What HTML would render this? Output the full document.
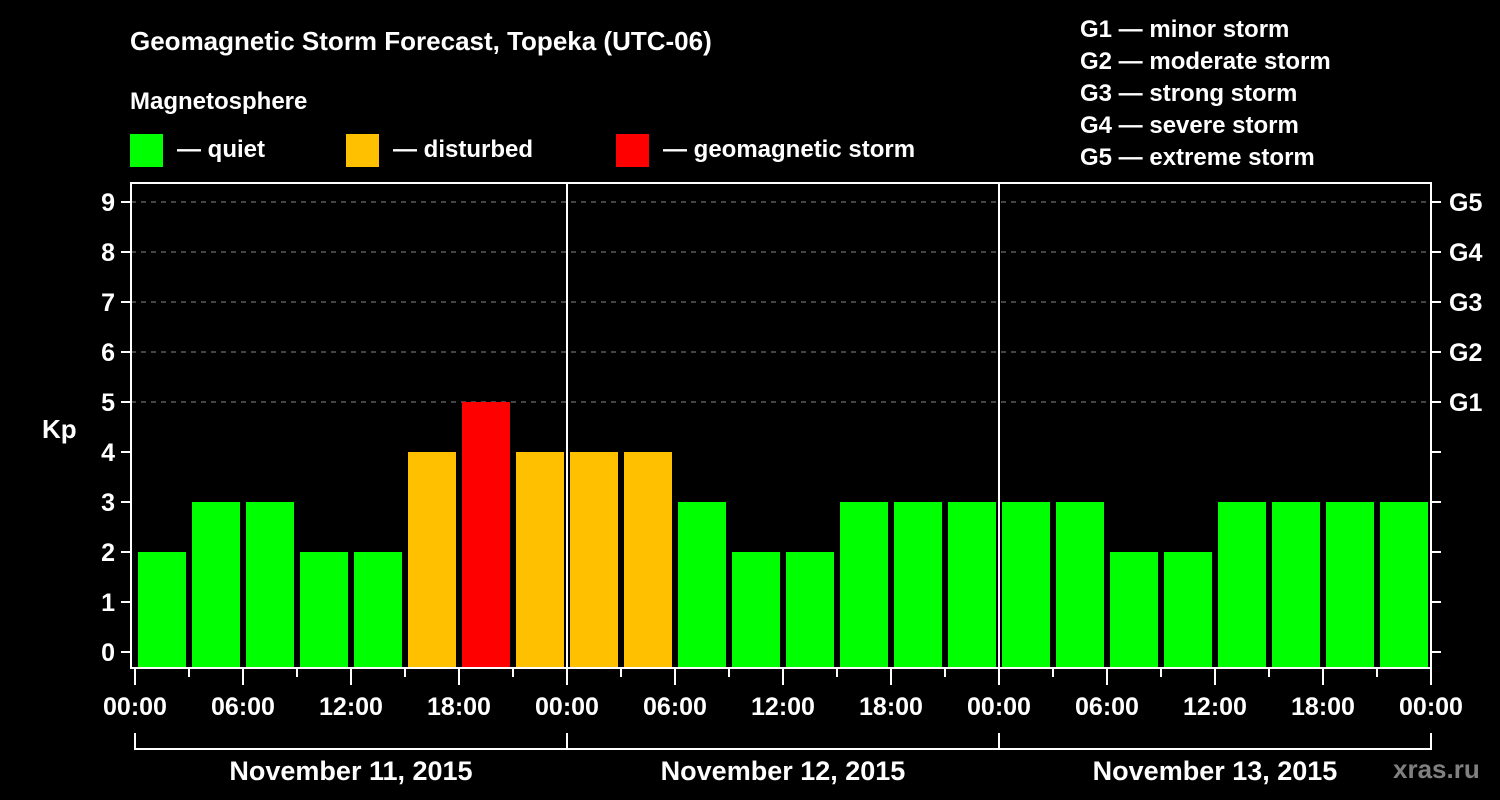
<!DOCTYPE html>
<html><head><meta charset="utf-8"><style>
html,body{margin:0;padding:0;background:#000;}
svg{display:block;font-family:"Liberation Sans",Arial,sans-serif;font-weight:bold;}
</style></head><body>
<svg id="chart" width="1500" height="800" viewBox="0 0 1500 800">
<rect x="0" y="0" width="1500" height="800" fill="#000"/>
<text x="130" y="50" fill="#fff" font-size="26">Geomagnetic Storm Forecast, Topeka (UTC-06)</text>
<text x="130" y="109" fill="#fff" font-size="24">Magnetosphere</text>
<rect x="130" y="134" width="33" height="33" fill="#00ff00"/>
<text x="177" y="157" fill="#fff" font-size="24">— quiet</text>
<rect x="346" y="134" width="33" height="33" fill="#ffc000"/>
<text x="393" y="157" fill="#fff" font-size="24">— disturbed</text>
<rect x="616" y="134" width="33" height="33" fill="#ff0000"/>
<text x="663" y="157" fill="#fff" font-size="24">— geomagnetic storm</text>
<g fill="#fff" font-size="24">
<text x="1080" y="37">G1 — minor storm</text>
<text x="1080" y="69">G2 — moderate storm</text>
<text x="1080" y="101">G3 — strong storm</text>
<text x="1080" y="133">G4 — severe storm</text>
<text x="1080" y="165">G5 — extreme storm</text>
</g>
<text x="42" y="438" fill="#fff" font-size="26">Kp</text>
<g id="grid"></g>
<g id="bars"></g>
<g id="axes"></g>
<text x="1393" y="778" fill="#808080" font-size="26">xras.ru</text>
</svg>
<script>
const kpValues = [2,3,3,2,2,4,5,4, 4,4,3,2,2,3,3,3, 3,3,2,2,3,3,3,3];
const yTicks = [0,1,2,3,4,5,6,7,8,9];
const gLabels = ["G1","G2","G3","G4","G5"];
const xTickLabels = ["00:00","06:00","12:00","18:00","00:00","06:00","12:00","18:00","00:00","06:00","12:00","18:00","00:00"];
const dayLabels = ["November 11, 2015","November 12, 2015","November 13, 2015"];

const NS = "http://www.w3.org/2000/svg";
const X0 = 135, SLOT = 54, LEFT = 131, RIGHT = 1431, TOP = 183, BOTTOM = 668;
const yScale = v => 652 - 50 * v;
const xScale = i => X0 + SLOT * i;
function mk(tag, attrs, parent) {
  const e = document.createElementNS(NS, tag);
  for (const k in attrs) e.setAttribute(k, attrs[k]);
  parent.appendChild(e);
  return e;
}
const grid = document.getElementById("grid");
const bars = document.getElementById("bars");
const axes = document.getElementById("axes");

yTicks.forEach(v => {
  const y = yScale(v);
  if (v >= 5) {
    const l = mk("line", {x1: LEFT, x2: RIGHT, y1: y, y2: y, stroke: "#888", "stroke-width": 1, "stroke-dasharray": "5,5"}, grid);
    
    
  }
  const t = mk("line", {x1: LEFT - 10, x2: LEFT, y1: y, y2: y, stroke: "#fff", "stroke-width": 2}, axes);
  
  
  const t2 = mk("line", {x1: RIGHT, x2: RIGHT + 10, y1: y, y2: y, stroke: "#fff", "stroke-width": 2}, axes);
  
  
  const tx = mk("text", {x: LEFT - 16, y: y + 9, fill: "#fff", "font-size": 25, "text-anchor": "end"}, axes);
  tx.textContent = v;
  
  
  if (v >= 5) {
    const g = mk("text", {x: RIGHT + 18, y: y + 9, fill: "#fff", "font-size": 25}, axes);
    g.textContent = gLabels[v - 5];
    
    
  }
});

kpValues.forEach((v, i) => {
  const color = v >= 5 ? "#ff0000" : (v === 4 ? "#ffc000" : "#00ff00");
  const y = yScale(v);
  const r = mk("rect", {x: xScale(i) + 3, y: y, width: 48, height: BOTTOM - y, fill: color}, bars);
  
  
});

const frame = mk("rect", {x: LEFT, y: TOP, width: RIGHT - LEFT, height: BOTTOM - TOP, fill: "none", stroke: "#fff", "stroke-width": 2}, axes);



for (let i = 0; i <= kpValues.length; i++) {
  const x = xScale(i);
  const major = i % 2 === 0;
  const tk = mk("line", {x1: x, x2: x, y1: BOTTOM, y2: BOTTOM + (major ? 17 : 9), stroke: "#fff", "stroke-width": 2}, axes);
  
  
  if (i % 8 === 0 && i > 0 && i < kpValues.length) {
    const d = mk("line", {x1: x, x2: x, y1: TOP, y2: BOTTOM, stroke: "#fff", "stroke-width": 2}, axes);
    
    
  }
}
xTickLabels.forEach((lab, j) => {
  const t = mk("text", {x: xScale(j * 2), y: 715, fill: "#fff", "font-size": 25, "text-anchor": "middle"}, axes);
  t.textContent = lab;
  
  
});
const br = mk("line", {x1: X0, x2: xScale(kpValues.length), y1: 749, y2: 749, stroke: "#fff", "stroke-width": 2}, axes);


for (let d = 0; d <= dayLabels.length; d++) {
  const x = xScale(d * 8);
  const v = mk("line", {x1: x, x2: x, y1: 733, y2: 750, stroke: "#fff", "stroke-width": 2}, axes);
  
  
}
dayLabels.forEach((lab, d) => {
  const t = mk("text", {x: xScale(d * 8 + 4), y: 780, fill: "#fff", "font-size": 27, "text-anchor": "middle"}, axes);
  t.textContent = lab;
  
  
});
</script>
</body></html>
